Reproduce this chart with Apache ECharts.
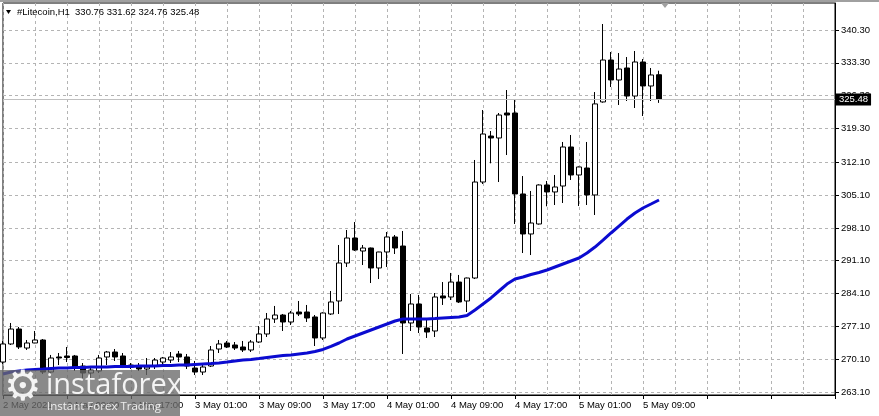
<!DOCTYPE html>
<html><head><meta charset="utf-8">
<script src="https://cdn.jsdelivr.net/npm/echarts@6/dist/echarts.min.js"></script>
<style>html,body{margin:0;padding:0;background:#fff;overflow:hidden}#c{width:879px;height:416px}</style>
</head><body><div id="c"></div>
<script>
// ---- data ----
const symbolTitle = '#Litecoin,H1';
const lastQuote = [330.76, 331.62, 324.76, 325.48]; // O H L C of last bar
const tickLabels = ['2 May 2021', '2 May 09:00', '2 May 17:00', '3 May 01:00', '3 May 09:00', '3 May 17:00',
  '4 May 01:00', '4 May 09:00', '4 May 17:00', '5 May 01:00', '5 May 09:00'];
const labelEvery = 8;      // hours between time labels
const gridEvery = 4;       // hours between vertical grid lines
const emptySlots = 22;     // empty hourly slots to the right (chart shift)
const yTicks = [263.10, 270.10, 277.10, 284.10, 291.10, 298.10, 305.10, 312.10, 319.30, 326.30, 333.30, 340.30];

const opens = [269.49, 273.34, 276.53, 272.48, 273.55, 274.19, 267.36, 270.57, 270.78, 270.78,
  268.64, 267.15, 267.58, 270.57, 271.63, 270.78, 268.43, 268.64, 268.00, 268.64,
  269.49, 269.92, 271.21, 270.57, 268.21, 267.36, 268.64, 272.27, 273.55, 273.12,
  272.70, 272.06, 273.76, 275.47, 278.67, 279.52, 278.03, 280.16, 280.16, 279.10,
  274.62, 279.74, 282.51, 290.61, 295.94, 293.17, 293.81, 289.55, 292.96, 296.16,
  294.23, 277.82, 281.87, 276.75, 276.11, 283.58, 283.36, 286.55, 282.51, 287.41,
  307.88, 317.69, 317.27, 322.60, 322.60, 305.33, 296.80, 298.93, 307.25, 305.76,
  307.03, 315.35, 309.38, 310.87, 305.12, 324.96, 333.90, 329.64, 332.20, 326.22,
  333.48, 328.36, 330.76];
const closes = [273.34, 276.53, 272.70, 273.55, 274.19, 267.36, 270.35, 270.35, 270.46, 268.43,
  267.15, 267.79, 270.35, 271.63, 270.57, 268.85, 268.85, 268.00, 268.43, 269.92,
  270.35, 270.57, 270.57, 268.64, 267.36, 268.43, 272.06, 273.34, 272.70, 272.48,
  272.06, 273.76, 275.47, 278.67, 279.52, 278.03, 279.95, 279.74, 278.88, 274.62,
  279.95, 282.30, 290.61, 295.94, 293.38, 293.81, 289.55, 292.96, 296.16, 293.81,
  277.82, 281.87, 276.96, 275.89, 283.36, 283.15, 286.55, 282.30, 287.41, 307.88,
  318.12, 317.27, 322.17, 322.17, 305.33, 296.80, 299.14, 307.25, 305.76, 306.82,
  315.35, 309.38, 311.09, 305.12, 324.54, 333.90, 329.64, 331.98, 326.22, 333.48,
  328.36, 330.71, 325.48];
const highs = [273.98, 277.82, 276.96, 274.19, 276.11, 274.40, 271.00, 271.42, 272.70, 271.00,
  269.28, 268.43, 271.00, 271.85, 272.27, 271.42, 269.28, 269.28, 270.35, 270.35,
  270.57, 271.63, 271.85, 271.21, 269.71, 269.07, 272.91, 274.19, 273.98, 273.76,
  273.98, 274.19, 277.17, 279.95, 281.45, 279.74, 280.38, 282.51, 281.66, 279.52,
  280.10, 284.64, 294.45, 297.65, 299.35, 294.45, 293.90, 293.00, 297.22, 296.58,
  297.44, 284.00, 283.79, 278.67, 284.21, 286.55, 288.49, 288.06, 287.50, 312.58,
  323.24, 318.76, 322.60, 327.50, 325.37, 309.16, 305.97, 307.40, 308.10, 309.38,
  316.42, 317.91, 311.20, 316.42, 327.07, 341.58, 335.61, 335.39, 334.54, 335.82,
  334.12, 332.20, 331.62];
const lows = [269.07, 273.12, 272.27, 272.06, 273.50, 266.94, 266.94, 268.85, 269.49, 267.58,
  265.66, 265.66, 267.15, 268.85, 269.71, 268.21, 268.00, 267.58, 266.72, 268.00,
  269.07, 269.28, 269.49, 268.00, 266.72, 266.72, 268.43, 271.42, 272.48, 272.06,
  271.63, 271.63, 273.55, 274.83, 277.82, 276.11, 277.39, 279.31, 278.03, 272.91,
  274.19, 279.52, 279.74, 289.76, 293.17, 290.18, 286.34, 287.19, 289.76, 292.53,
  271.21, 276.11, 275.68, 274.62, 274.83, 281.66, 282.72, 282.08, 280.16, 287.19,
  307.46, 311.87, 307.88, 313.64, 298.93, 292.74, 292.31, 298.80, 302.70, 302.98,
  303.41, 308.31, 302.77, 302.98, 300.85, 324.80, 328.14, 324.31, 325.16, 323.67,
  321.96, 325.16, 324.76];
const maValues = [266.94, 267.36, 267.58, 267.79, 267.90, 268.00, 268.11, 268.21, 268.21, 268.32,
  268.32, 268.43, 268.43, 268.43, 268.53, 268.53, 268.53, 268.64, 268.64, 268.64,
  268.75, 268.75, 268.85, 268.85, 268.96, 269.07, 269.17, 269.28, 269.49, 269.71,
  269.92, 270.03, 270.24, 270.46, 270.67, 270.88, 270.99, 271.21, 271.42, 271.74,
  272.17, 272.81, 273.55, 274.40, 275.04, 275.68, 276.32, 276.96, 277.60, 278.24,
  278.67, 278.67, 278.67, 278.67, 278.77, 278.88, 278.99, 279.10, 279.42, 280.59,
  281.87, 283.15, 284.64, 286.13, 287.19, 287.62, 288.16, 288.58, 289.12, 289.76,
  290.40, 291.04, 291.68, 292.74, 294.02, 295.51, 297.01, 298.50, 299.99, 301.27,
  302.34, 303.19, 304.05];

// ---- build ----
const nSlots = opens.length + emptySlots;
const categories = [];
const start = Date.UTC(2021, 4, 2, 1);
for (let i = 0; i < nSlots; i++) {
  const d = new Date(start + i * 3600000);
  categories.push(d.getUTCDate() + ' May ' + String(d.getUTCHours()).padStart(2, '0') + ':00');
}
const candleData = opens.map((o, i) => [o, closes[i], lows[i], highs[i]]);
const FONT = "'Liberation Sans', Arial, sans-serif";
const headerText = symbolTitle + '  ' + lastQuote.map(v => v.toFixed(2)).join(' ');

const chart = echarts.init(document.getElementById('c'), null, { renderer: 'canvas' });
chart.setOption({
  animation: false,
  backgroundColor: '#fff',
  grid: { left: 2, right: 44, top: 3, bottom: 21, show: true, borderColor: '#000', borderWidth: 1, backgroundColor: '#fff' },
  xAxis: {
    type: 'category', data: categories, boundaryGap: false,
    axisLine: { show: true, lineStyle: { color: '#000', width: 1 } },
    axisTick: { show: true, interval: labelEvery - 1, length: 4, lineStyle: { color: '#000' } },
    axisLabel: {
      interval: labelEvery - 1, align: 'left', margin: 5, color: '#000', fontSize: 9.5, fontFamily: FONT,
      formatter: (v, idx) => (idx % labelEvery === 0 && tickLabels[idx / labelEvery]) ? tickLabels[idx / labelEvery] : ''
    },
    splitLine: { show: true, interval: gridEvery - 1, lineStyle: { color: '#b4b4b4', type: [3, 3], width: 1 } }
  },
  yAxis: {
    type: 'value', position: 'right', min: 262.46, max: 346.06, scale: true,
    axisLine: { show: true, lineStyle: { color: '#000' } },
    axisTick: { show: true, length: 4, customValues: yTicks, lineStyle: { color: '#000' } },
    axisLabel: { customValues: yTicks, margin: 6, color: '#000', fontSize: 9.5, fontFamily: FONT, formatter: v => v.toFixed(2) },
    splitLine: { show: true, lineStyle: { color: '#b4b4b4', type: [3, 3], width: 1 } }
  },
  series: [
    {
      type: 'candlestick', data: candleData, barWidth: 5, clip: true,
      itemStyle: { color: '#fff', color0: '#000', borderColor: '#000', borderColor0: '#000', borderWidth: 1 },
      markLine: {
        symbol: ['none', 'none'], silent: true, animation: false,
        lineStyle: { color: '#c0c0c0', type: 'solid', width: 1 },
        label: { show: true, position: 'end', distance: 1, formatter: lastQuote[3].toFixed(2),
          backgroundColor: '#000', color: '#fff', padding: [1, 3, 1, 3], fontSize: 9.5, fontFamily: FONT },
        data: [{ yAxis: lastQuote[3] }]
      }
    },
    {
      type: 'line', data: maValues, symbol: 'none', smooth: false,
      lineStyle: { color: '#0b0bd0', width: 3 }, z: 3
    }
  ],
  graphic: [
    { type: 'rect', shape: { x: 0, y: 0, width: 879, height: 2 }, style: { fill: '#a0a0a0' }, z: 100 },
    { type: 'polygon', shape: { points: [[6, 10], [11, 10], [8.5, 14]] }, style: { fill: '#000' }, z: 100 },
    { type: 'text', x: 17, y: 7, style: { text: headerText, fill: '#000', font: '9.5px ' + FONT }, z: 100 },
    { type: 'polygon', shape: { points: [[661, 3], [669, 3], [665, 8]] }, style: { fill: '#a0a0a0' }, z: 100 },
    { type: 'rect', shape: { x: 0, y: 370, width: 180, height: 46 }, style: { fill: 'rgba(105,105,105,0.78)' }, z: 100 },
    { type: 'text', x: 4, y: 368, style: { text: '\u2699', fill: 'rgba(255,255,255,0.9)', font: '42px "DejaVu Sans"' }, z: 101 },
    { type: 'text', x: 46, y: 371, style: { text: 'instaforex', fill: 'rgba(255,255,255,0.9)', font: '29px "Open Sans", "DejaVu Sans", sans-serif' }, z: 101 },
    { type: 'text', x: 47, y: 401, style: { text: 'Instant Forex Trading', fill: 'rgba(255,255,255,0.85)', font: '11.5px "Open Sans", "DejaVu Sans", sans-serif' }, z: 101 }
  ]
});
</script></body></html>
